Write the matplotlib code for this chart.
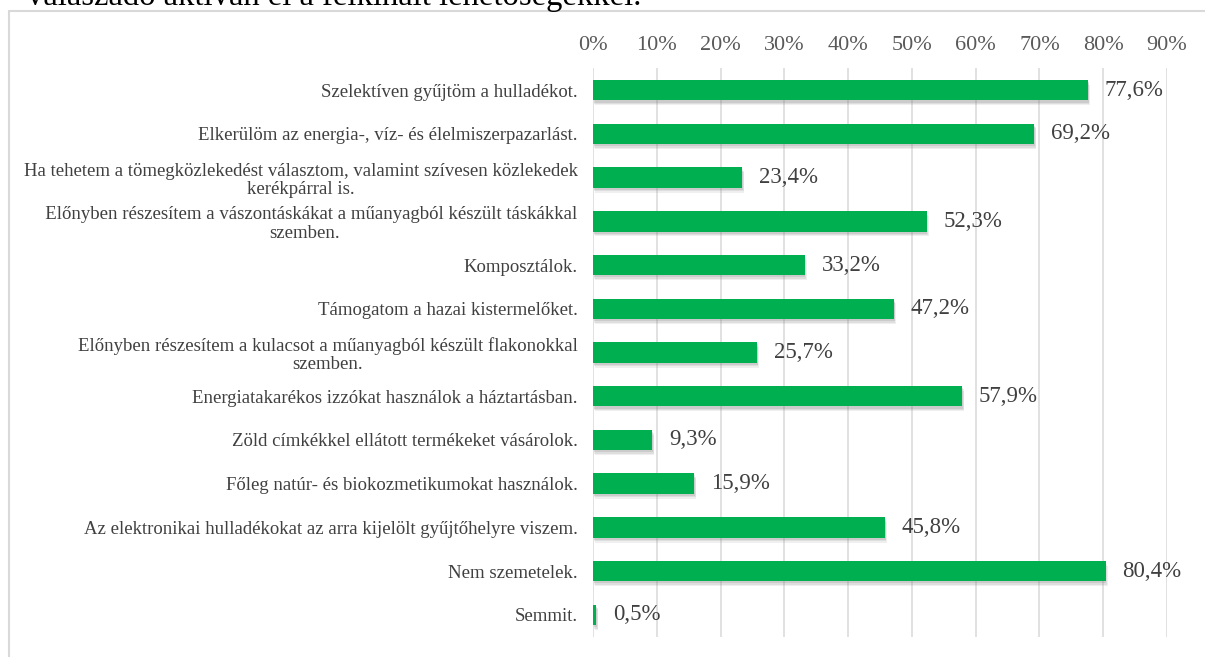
import matplotlib
matplotlib.use("Agg")
import matplotlib.pyplot as plt
import matplotlib.patheffects as pe
from matplotlib.patches import Rectangle

categories = [
    "Szelektíven gyűjtöm a hulladékot.",
    "Elkerülöm az energia-, víz- és élelmiszerpazarlást.",
    "Ha tehetem a tömegközlekedést választom, valamint szívesen közlekedek\nkerékpárral is.",
    "   Előnyben részesítem a vászontáskákat a műanyagból készült táskákkal\nszemben.",
    "Komposztálok.",
    "Támogatom a hazai kistermelőket.",
    "Előnyben részesítem a kulacsot a műanyagból készült flakonokkal\nszemben.",
    "Energiatakarékos izzókat használok a háztartásban.",
    "Zöld címkékkel ellátott termékeket vásárolok.",
    "Főleg natúr- és biokozmetikumokat használok.",
    "Az elektronikai hulladékokat az arra kijelölt gyűjtőhelyre viszem.",
    "Nem szemetelek.",
    "Semmit.",
]
values = [0.776, 0.692, 0.234, 0.523, 0.332, 0.472, 0.257, 0.579, 0.093, 0.159, 0.458, 0.804, 0.005]
value_labels = ["77,6%", "69,2%", "23,4%", "52,3%", "33,2%", "47,2%", "25,7%",
                "57,9%", "9,3%", "15,9%", "45,8%", "80,4%", "0,5%"]
xticks = [0.0, 0.1, 0.2, 0.3, 0.4, 0.5, 0.6, 0.7, 0.8, 0.9]
xtick_labels = ["0%", "10%", "20%", "30%", "40%", "50%", "60%", "70%", "80%", "90%"]
caption = "válaszadó aktívan él a felkínált lehetőségekkel."

plt.rcParams['font.family'] = ['Liberation Serif', 'DejaVu Serif']

W, H = 1205, 657
fig = plt.figure(figsize=(W / 100, H / 100), dpi=100)

# chart border
fig.patches.append(Rectangle((9 / W, -0.1), 1.2, 1 - 11 / H + 0.1, transform=fig.transFigure,
                             fill=False, edgecolor="#d9d9d9", linewidth=1.5))
# cut-off caption above chart
fig.text(27 / W, 1 - 5 / H, caption, fontsize=23.5, color="black", va="baseline", ha="left")

ax = fig.add_axes([593 / W, 20.3 / H, (1167 - 593) / W, (636.7 - 68.3) / H])
n = len(categories)
ypos = list(range(n))
bars = ax.barh(ypos, values, height=0.47, color="#00B050", zorder=3)
for b in bars:
    b.set_path_effects([
        pe.SimplePatchShadow(offset=(1.5, -3.5), shadow_rgbFace="#808080", alpha=0.12),
        pe.SimplePatchShadow(offset=(1, -2.5), shadow_rgbFace="#808080", alpha=0.15),
        pe.SimplePatchShadow(offset=(0.5, -1.5), shadow_rgbFace="#808080", alpha=0.2),
        pe.Normal()])

for y, v, lab in zip(ypos, values, value_labels):
    ax.annotate(lab, (v, y), xytext=(12, 0), textcoords="offset points",
                va="center", ha="left", fontsize=16.5, color="#404040", zorder=4)

ax.set_xlim(0, 0.9)
ax.set_ylim(n - 0.5, -0.5)
ax.set_xticks(xticks)
ax.set_xticklabels(xtick_labels)
ax.xaxis.tick_top()
ax.tick_params(axis="x", length=0, pad=9.5, labelsize=16, labelcolor="#595959")
ax.set_yticks(ypos)
ax.set_yticklabels(categories, fontsize=13.5, color="#404040")
for t in ax.get_yticklabels():
    t.set_multialignment("center")
    t.set_linespacing(1.1)
ax.tick_params(axis="y", length=0, pad=11)
ax.grid(axis="x", color="#d9d9d9", linewidth=1.1, zorder=0)
for s in ax.spines.values():
    s.set_visible(False)

fig.savefig("out.png", dpi=100)
